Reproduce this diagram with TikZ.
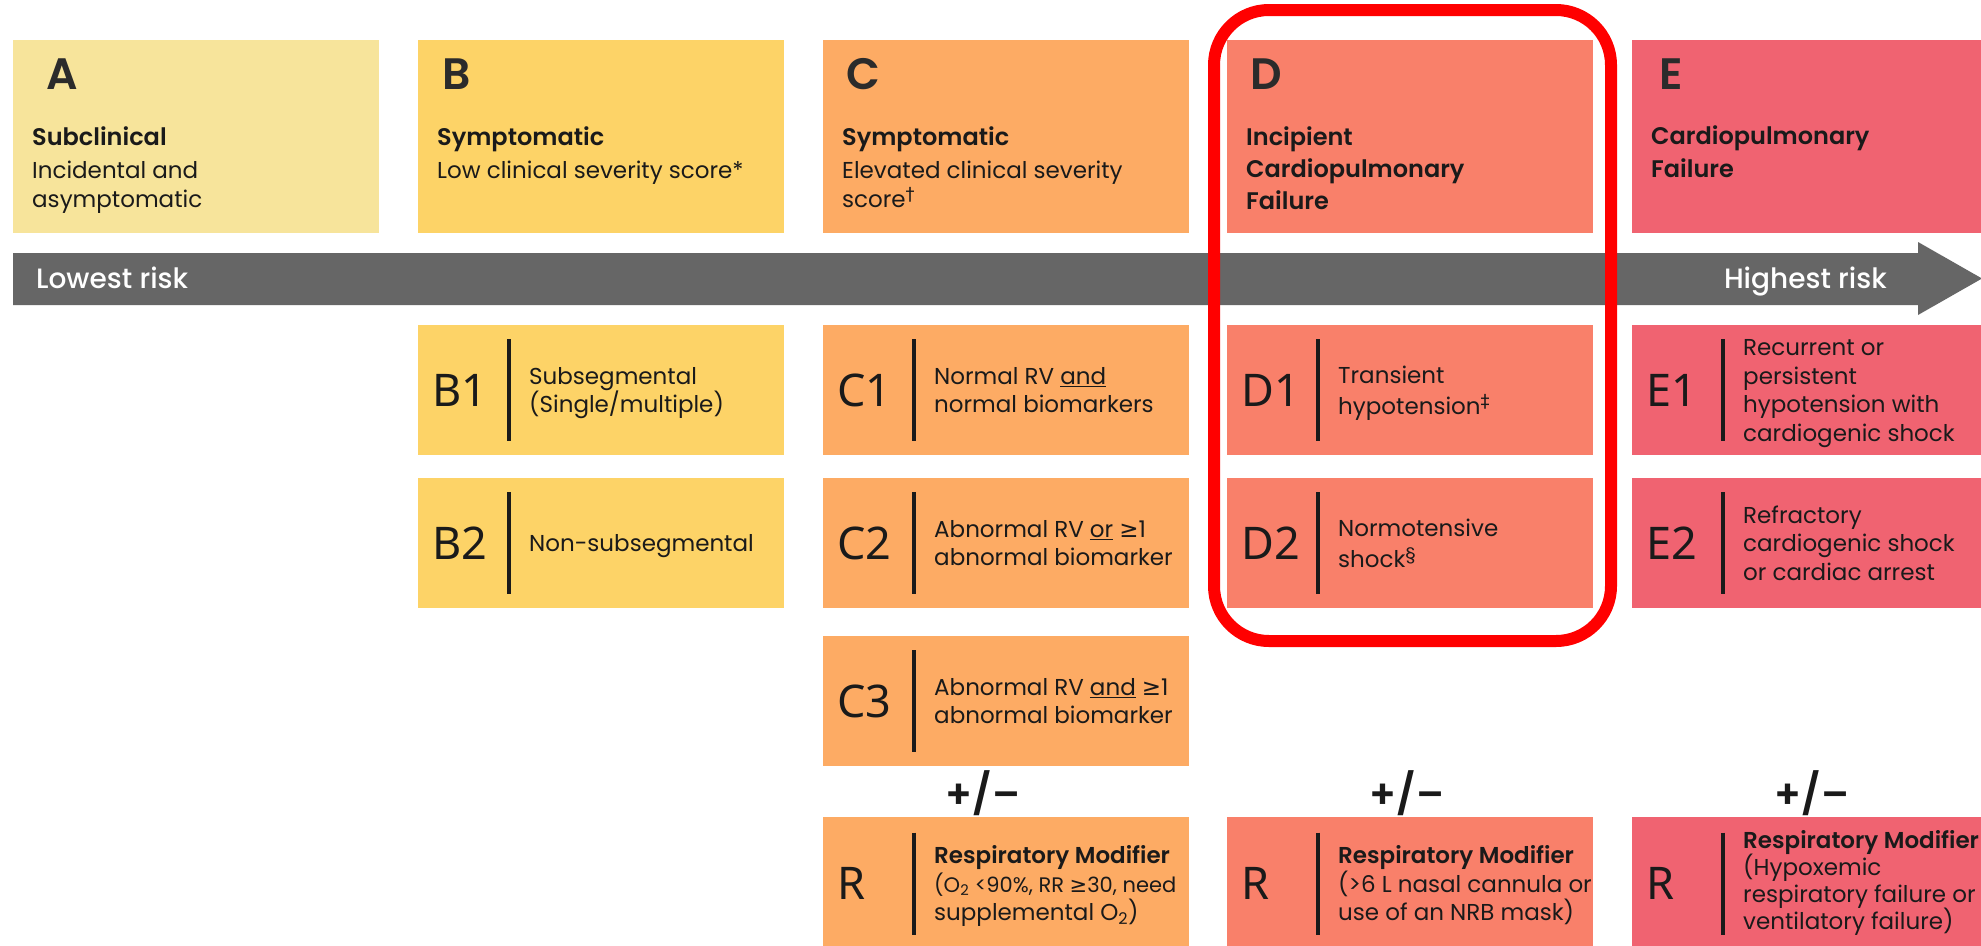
\documentclass[tikz,border=0pt]{standalone}
\usepackage{fontspec}
\setmainfont{Poppins}[BoldFont={Poppins SemiBold}]
\newfontfamily\medf{Poppins Medium}
\newfontfamily\labf{Noto Sans}
\newfontfamily\symf{DejaVu Sans}
\definecolor{cA}{HTML}{F7E49B}
\definecolor{cB}{HTML}{FDD367}
\definecolor{cC}{HTML}{FDAB64}
\definecolor{cD}{HTML}{F9806A}
\definecolor{cE}{HTML}{F06371}
\definecolor{barc}{HTML}{666666}
\definecolor{ink}{HTML}{1A1A1A}
\definecolor{letc}{HTML}{2B2B2B}
\newcommand{\stk}[2]{\vtop{\baselineskip=#1pt\lineskiplimit=-1000pt\lineskip=0pt\halign{##\hfil\cr#2\crcr}}}
\newcommand{\undl}[1]{\underline{#1}}
\newcommand{\gsym}{{\symf ≥}}
\newcommand{\bigsup}[1]{\raisebox{7pt}{\fontsize{18}{18}\selectfont #1}}
\newcommand{\subcell}[5]{%
  \node[sublab] (#1-lab) at ([shift={(14,0)}]#1.west) {#2};
  \draw[divider] ([shift={(91,-51)}]#1.west) -- ([shift={(91,51)}]#1.west);
  \node[subtxt] (#1-txt) at ([shift={(111,#3)}]#1.west) {\stk{#4}{#5}};
}
\tikzset{
  topbox/.style={anchor=north west, inner sep=0, outer sep=0, minimum width=366, minimum height=193},
  subbox/.style={anchor=north west, inner sep=0, outer sep=0, minimum width=366, minimum height=130},
  letter/.style={anchor=base west, inner sep=0, text=letc, font=\fontsize{44}{44}\selectfont\bfseries},
  ttl/.style={anchor=base west, inner sep=0, text=ink, font=\fontsize{24}{30}\selectfont\bfseries},
  bdy/.style={anchor=base west, inner sep=0, text=ink, font=\fontsize{23}{30}\selectfont},
  sublab/.style={anchor=west, inner sep=0, text=ink, font=\labf\fontsize{45}{45}\selectfont},
  subtxt/.style={anchor=base west, inner sep=0, text=ink, font=\fontsize{23}{28}\selectfont},
  divider/.style={draw=ink, line width=3.5},
  pmsign/.style={inner sep=0, text=ink, font=\fontsize{40}{40}\selectfont\bfseries},
  risk/.style={inner sep=0, text=white, font=\medf\fontsize{28}{28}\selectfont},
}
\begin{document}
\begin{tikzpicture}[x=1pt, y=-1pt]
\useasboundingbox (0,0) rectangle (1981,945);
\clip (0,0) rectangle (1981,945);
\fill[white] (0,0) rectangle (1981,945);

% top boxes
\node[topbox, fill=cA] (A) at (13,40) {};
\node[topbox, fill=cB] (B) at (418,40) {};
\node[topbox, fill=cC] (C) at (823,40) {};
\node[topbox, fill=cD] (D) at (1227,40) {};
\node[topbox, fill=cE, minimum width=380] (E) at (1632,40) {};

\node[letter] (A-let) at ([shift={(33,49)}]A.north west) {A};
\node[letter] (B-let) at ([shift={(24,49)}]B.north west) {B};
\node[letter] (C-let) at ([shift={(23,49)}]C.north west) {C};
\node[letter] (D-let) at ([shift={(23,49)}]D.north west) {D};
\node[letter] (E-let) at ([shift={(27,49)}]E.north west) {E};

\node[ttl] (A-ttl) at ([shift={(19,105)}]A.north west) {Subclinical};
\node[bdy] (A-bdy) at ([shift={(19,138)}]A.north west) {\stk{29.5}{Incidental and\cr asymptomatic}};
\node[ttl] (B-ttl) at ([shift={(19,105)}]B.north west) {Symptomatic};
\node[bdy] (B-bdy) at ([shift={(19,138)}]B.north west) {Low clinical severity score*};
\node[ttl] (C-ttl) at ([shift={(19,105)}]C.north west) {Symptomatic};
\node[bdy] (C-bdy) at ([shift={(19,138)}]C.north west) {\stk{29.5}{Elevated clinical severity\cr score\bigsup{\symf †}}};
\node[ttl] (D-ttl) at ([shift={(19,105)}]D.north west) {\stk{32}{Incipient\cr Cardiopulmonary\cr Failure}};
\node[ttl] (E-ttl) at ([shift={(19,104)}]E.north west) {\stk{33}{Cardiopulmonary\cr Failure}};

% risk arrow
\fill[barc] (13,253) -- (1918,253) -- (1918,242) -- (1982,278.5) -- (1918,315) -- (1918,305) -- (13,305) -- cycle;
\node[risk, anchor=base west] (low) at (36,288) {Lowest risk};
\node[risk, anchor=base east] (high) at (1887,288) {Highest risk};

% sub boxes
\node[subbox, fill=cB] (B1) at (418,325) {};
\node[subbox, fill=cB] (B2) at (418,478) {};
\node[subbox, fill=cC] (C1) at (823,325) {};
\node[subbox, fill=cC] (C2) at (823,478) {};
\node[subbox, fill=cC] (C3) at (823,636) {};
\node[subbox, fill=cC, minimum height=133] (CR) at (823,817) {};
\node[subbox, fill=cD] (D1) at (1227,325) {};
\node[subbox, fill=cD] (D2) at (1227,478) {};
\node[subbox, fill=cD, minimum height=133] (DR) at (1227,817) {};
\node[subbox, fill=cE, minimum width=380] (E1) at (1632,325) {};
\node[subbox, fill=cE, minimum width=380] (E2) at (1632,478) {};
\node[subbox, fill=cE, minimum width=380, minimum height=133] (ER) at (1632,817) {};

\subcell{B1}{B1}{-5.75}{28.5}{Subsegmental\cr (Single/multiple)}
\subcell{B2}{B2}{8.5}{28.5}{Non-subsegmental}
\subcell{C1}{C1}{-5.75}{28.5}{Normal RV \undl{and}\cr normal biomarkers}
\subcell{C2}{C2}{-5.75}{28.5}{Abnormal RV \undl{or} \gsym1\cr abnormal biomarker}
\subcell{C3}{C3}{-5.75}{28.5}{Abnormal RV \undl{and} \gsym1\cr abnormal biomarker}
\subcell{CR}{R}{-20}{28.5}{\textbf{Respiratory Modifier}\cr \fontsize{21}{28}\selectfont(O\textsubscript{2} <90\%, RR \gsym30, need\cr supplemental O\textsubscript{2})}
\subcell{D1}{D1}{-7}{31}{Transient\cr hypotension\bigsup{\symf ‡}}
\subcell{D2}{D2}{-7}{31}{Normotensive\cr shock\bigsup{§}}
\subcell{DR}{R}{-20}{28.5}{\textbf{Respiratory Modifier}\cr (>6 L nasal cannula or\cr use of an NRB mask)}
\subcell{E1}{E1}{-34.5}{28.5}{Recurrent or\cr persistent\cr hypotension with\cr cardiogenic shock}
\subcell{E2}{E2}{-20}{28.5}{Refractory\cr cardiogenic shock\cr or cardiac arrest}
\subcell{ER}{R}{-35}{27}{\textbf{Respiratory Modifier}\cr (Hypoxemic\cr respiratory failure or\cr ventilatory failure)}

% +/- signs
\node[pmsign] (pmC) at (983,793) {+/–};
\node[pmsign] (pmD) at (1407,793) {+/–};
\node[pmsign] (pmE) at (1812,793) {+/–};

% highlight
\node[draw=red, line width=12, rounded corners=55, minimum width=397, minimum height=631,
      anchor=north west, inner sep=0, outer sep=0] (focus) at (1214,10) {};
\end{tikzpicture}
\end{document}
